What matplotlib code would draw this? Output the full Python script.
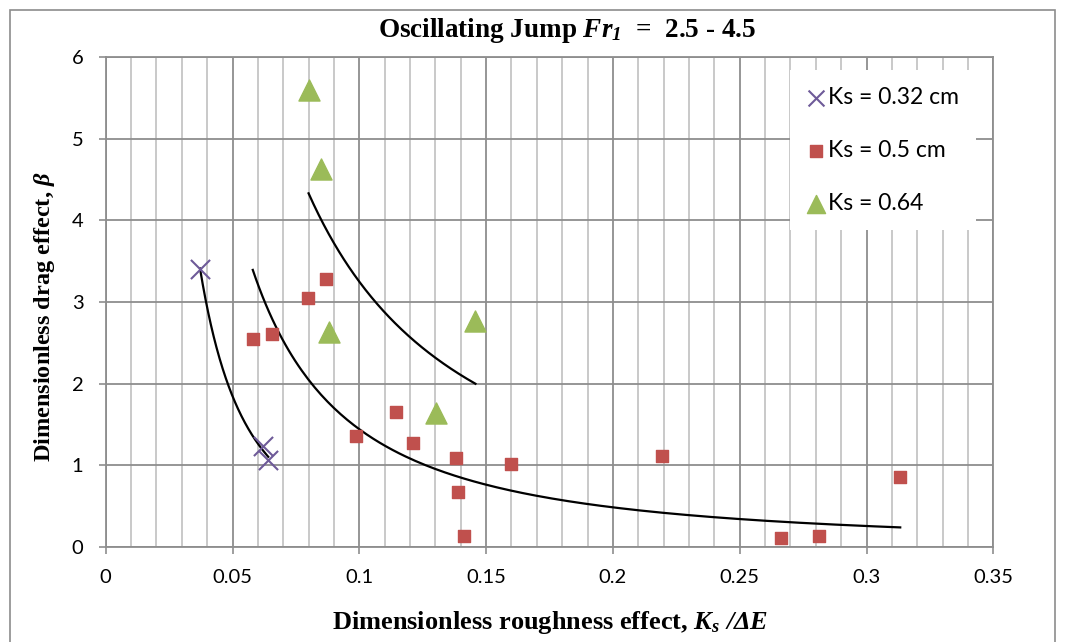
import numpy as np
import matplotlib
matplotlib.use('Agg')
import matplotlib.pyplot as plt
from matplotlib.patches import Rectangle

plt.rcParams['font.family'] = ['Lato', 'DejaVu Sans']
plt.rcParams['mathtext.fontset'] = 'custom'
plt.rcParams['mathtext.rm'] = 'Liberation Serif:bold'
plt.rcParams['mathtext.it'] = 'Liberation Serif:italic:bold'
plt.rcParams['mathtext.bf'] = 'Liberation Serif:bold'
plt.rcParams['mathtext.bfit'] = 'Liberation Serif:italic:bold'

# Ks = 0.32 cm
ks032_x = [0.0372, 0.0619, 0.0641]
ks032_y = [3.40, 1.24, 1.06]
# Ks = 0.5 cm
ks05_x = [0.0580, 0.0656, 0.0798, 0.0868, 0.0986, 0.1144, 0.1210, 0.1383,
          0.1390, 0.1412, 0.1598, 0.2195, 0.2664, 0.2813, 0.3133]
ks05_y = [2.547, 2.604, 3.053, 3.285, 1.363, 1.649, 1.273, 1.093,
          0.673, 0.131, 1.013, 1.114, 0.107, 0.131, 0.853]
# Ks = 0.64
ks064_x = [0.0800, 0.0848, 0.0879, 0.1302, 0.1458]
ks064_y = [5.59, 4.63, 2.63, 1.636, 2.77]

labels = ['Ks = 0.32 cm', 'Ks = 0.5 cm', 'Ks = 0.64']
purple = '#6E5A98'
red = '#C0504D'
green = '#9BBB59'


def power_fit(x, y):
    # power trendline y = a*x^b, least squares in log space
    b, ln_a = np.polyfit(np.log(x), np.log(y), 1)
    xs = np.linspace(min(x), max(x), 200)
    return xs, np.exp(ln_a) * xs ** b


fig = plt.figure(figsize=(10.65, 6.42), dpi=100)
ax = fig.add_axes([105.7 / 1065, 1 - 547 / 642, 887.6 / 1065, 490 / 642])

# outer chart border
fig.patches.append(Rectangle((10 / 1065, -0.05), 1045 / 1065, 1 - 10 / 642 + 0.05,
                             transform=fig.transFigure, fill=False,
                             edgecolor='#8C8C8C', linewidth=1.2))

ax.set_xlim(0, 0.35)
ax.set_ylim(0, 6)
ax.set_xticks(np.arange(0, 0.351, 0.05))
ax.set_xticks(np.arange(0, 0.351, 0.01), minor=True)
ax.set_yticks(np.arange(0, 7, 1))
ax.set_xticklabels(['0', '0.05', '0.1', '0.15', '0.2', '0.25', '0.3', '0.35'])
ax.grid(True, which='minor', axis='x', color='#C0C0C0', linewidth=1.2)
ax.grid(True, which='major', axis='x', color='#8E8E8E', linewidth=1.3)
ax.grid(True, which='major', axis='y', color='#8E8E8E', linewidth=1.3)
ax.set_axisbelow(True)
ax.tick_params(which='major', direction='out', length=5, width=1.2, color='#8E8E8E',
               labelsize=14.5, pad=11)
ax.tick_params(which='minor', length=0)
for s in ax.spines.values():
    s.set_color('#8E8E8E')
    s.set_linewidth(1.3)

# trendlines
for xd, yd in [(ks032_x, ks032_y), (ks05_x, ks05_y), (ks064_x, ks064_y)]:
    xs, ys = power_fit(xd, yd)
    ax.plot(xs, ys, color='black', linewidth=1.6, zorder=3)

ax.scatter(ks032_x, ks032_y, marker='x', s=190, color=purple, linewidths=1.5,
           label=labels[0], zorder=4)
ax.scatter(ks05_x, ks05_y, marker='s', s=72, color=red, label=labels[1], zorder=4)
ax.scatter(ks064_x, ks064_y, marker='^', s=230, color=green, label=labels[2], zorder=4)

leg = ax.legend(loc='upper left', bbox_to_anchor=(0.771, 0.973), fontsize=16.5,
                frameon=True, fancybox=False, edgecolor='none', framealpha=1,
                labelspacing=1.4, handletextpad=0.1, handlelength=0.85,
                borderpad=0.72, borderaxespad=0, scatterpoints=1)
leg.legend_handles[0].set_sizes([130])
leg.legend_handles[1].set_sizes([70])
leg.legend_handles[2].set_sizes([170])

fig.text(0.532, 0.953, r'Oscillating Jump $\mathbfit{Fr_1}$  =  2.5 - 4.5',
         ha='center', va='center', fontsize=19.5, family='Liberation Serif',
         fontweight='bold')
fig.text(0.042, 0.507, r'Dimensionless drag effect, $\mathbfit{\beta}$',
         ha='center', va='center', rotation=90, fontsize=17.5,
         family='Liberation Serif', fontweight='bold')
fig.text(0.5164, 0.031, r'Dimensionless roughness effect, $\mathbfit{K_s}$ $\mathbfit{/\Delta E}$',
         ha='center', va='center', fontsize=19, family='Liberation Serif',
         fontweight='bold')

fig.savefig('out.png', dpi=100)
